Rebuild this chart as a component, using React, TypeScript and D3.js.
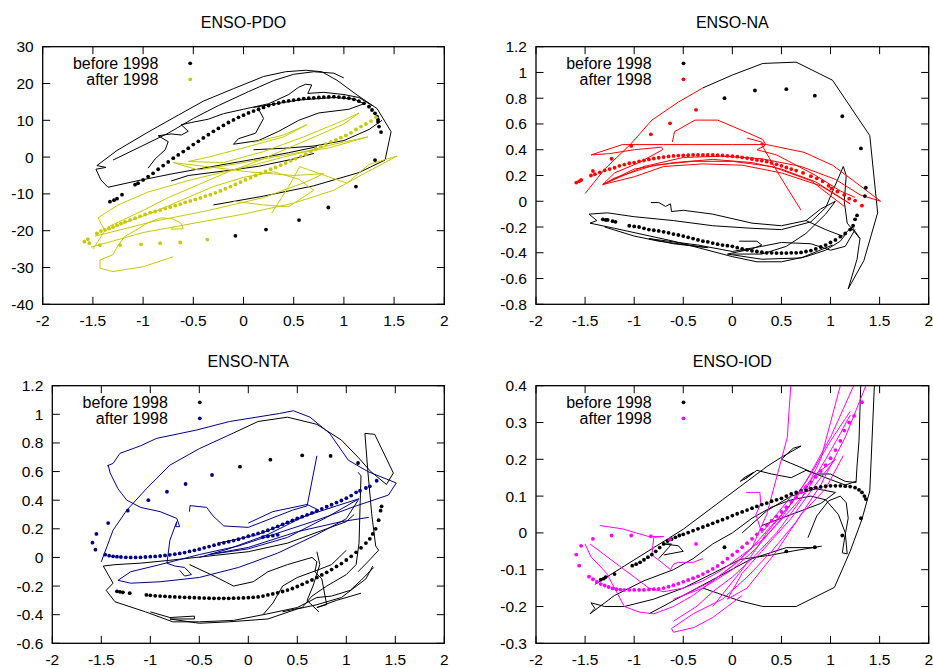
import React from 'react';
import * as d3 from 'd3';

type P = [number, number];

// ---------- shared ticks ----------
const xTicks = [-2, -1.5, -1, -0.5, 0, 0.5, 1, 1.5, 2];
const pdoYTicks = [-40, -30, -20, -10, 0, 10, 20, 30];
const naYTicks = [-0.8, -0.6, -0.4, -0.2, 0, 0.2, 0.4, 0.6, 0.8, 1, 1.2];
const ntaYTicks = [-0.6, -0.4, -0.2, 0, 0.2, 0.4, 0.6, 0.8, 1, 1.2];
const iodYTicks = [-0.3, -0.2, -0.1, 0, 0.1, 0.2, 0.3, 0.4];
const legendLabels = ['before 1998', 'after 1998'];

// ---------- ENSO-PDO ----------
const pdoBeforeDots: P[] = [
  [-1.33, -12.1], [-1.29, -11.7], [-1.26, -11.3], [-1.21, -10.2], [-1.08, -7.5],
  [-1.05, -7.1], [-1.0, -6.2], [-0.95, -5.3], [-0.9, -4.4], [-0.85, -3.3], [-0.8, -2.3], [-0.75, -1.3],
  [-0.7, -0.3], [-0.65, 0.6], [-0.6, 1.5], [-0.55, 2.4], [-0.5, 3.4], [-0.45, 4.3], [-0.4, 5.2],
  [-0.35, 6.1], [-0.3, 7.0], [-0.25, 7.8], [-0.2, 8.6], [-0.15, 9.4], [-0.1, 10.1], [-0.05, 10.8],
  [0, 11.4], [0.05, 12.0], [0.1, 12.5], [0.15, 13.0], [0.2, 13.5], [0.25, 14.0], [0.3, 14.4],
  [0.35, 14.7], [0.4, 15.1], [0.45, 15.3], [0.5, 15.5], [0.55, 15.7], [0.6, 15.9], [0.65, 16.0],
  [0.7, 16.1], [0.75, 16.2], [0.8, 16.3], [0.85, 16.35], [0.9, 16.4], [0.95, 16.3], [1.0, 16.2],
  [1.05, 16.0], [1.1, 15.7], [1.15, 15.2], [1.2, 14.6], [1.25, 13.7], [1.28, 12.8], [1.31, 11.9],
  [1.33, 11.0], [1.34, 10.2], [1.34, 9.6], [1.35, 8.3], [1.37, 6.8],
  [1.31, -0.8], [1.12, -8.0], [0.845, -13.7], [0.553, -17.1], [0.224, -19.7], [-0.081, -21.4],
];
const pdoAfterDots: P[] = [
  [-1.585, -23.0], [-1.55, -22.3], [-1.535, -23.4],
  [-1.46, -20.7], [-1.42, -20.1], [-1.38, -19.8], [-1.34, -19.4], [-1.3, -19.0], [-1.26, -18.5],
  [-1.22, -18.1], [-1.18, -17.6], [-1.13, -17.1], [-1.08, -16.6], [-1.03, -16.1], [-0.98, -15.6],
  [-0.93, -15.1], [-0.88, -14.8], [-0.83, -14.4], [-0.78, -14.0], [-0.73, -13.6], [-0.68, -13.2],
  [-0.63, -12.8], [-0.58, -12.3], [-0.53, -11.9], [-0.48, -11.5], [-0.43, -11.1], [-0.38, -10.6],
  [-0.33, -10.2], [-0.28, -9.7], [-0.23, -9.2], [-0.18, -8.6], [-0.13, -8.0], [-0.08, -7.4],
  [-0.03, -6.8], [0.02, -6.2], [0.07, -5.6], [0.12, -5.0], [0.17, -4.4], [0.22, -3.9], [0.27, -3.3],
  [0.32, -2.8], [0.37, -2.2], [0.42, -1.6], [0.47, -1.0], [0.52, -0.4], [0.57, 0.2], [0.62, 0.8],
  [0.67, 1.5], [0.72, 2.2], [0.77, 2.9], [0.82, 3.5], [0.87, 4.1], [0.92, 4.7], [0.97, 5.3],
  [1.02, 5.9], [1.07, 6.6], [1.12, 7.5], [1.17, 8.3], [1.22, 9.0], [1.27, 9.8], [1.32, 10.8],
  [-1.43, -23.9], [-1.23, -23.9], [-1.02, -23.7], [-0.83, -23.4], [-0.63, -23.2], [-0.36, -22.4],
];
const pdoBeforeLines: P[][] = [
  [[-0.30, -13.0], [0.20, -10.6], [0.70, -7.8], [1.15, -4.2], [1.41, -0.8], [1.47, 6.9], [1.33, 13.2],
   [1.13, 16.9], [0.93, 20.9], [0.78, 23.2], [0.62, 23.6], [0.42, 23.2], [0.20, 21.9], [-0.10, 18.6],
   [-0.40, 15.2], [-0.65, 11.4], [-0.95, 6.8], [-1.26, 1.8], [-1.46, -2.3], [-1.37, -2.8], [-1.47, -3.3],
   [-1.42, -6.2], [-1.35, -8.2], [-1.05, -6.4], [-0.72, -4.6], [-0.3, -2.5], [0.1, -0.6], [0.45, 1.2], [0.73, 2.8]],
  [[-0.95, -3.0], [-0.88, -0.5], [-0.78, 2.0], [-0.75, 4.2], [-0.85, 5.8], [-0.72, 6.3], [-0.62, 6.0],
   [-0.55, 7.0], [-0.62, 8.8], [-0.52, 9.4], [-0.35, 10.3], [-0.2, 11.8], [0.0, 13.0], [0.25, 14.5],
   [0.45, 17.0], [0.55, 19.0], [0.62, 19.8], [0.68, 19.6], [0.64, 17.3], [0.80, 17.6], [1.0, 17.0],
   [1.15, 16.2], [1.28, 14.0]],
  [[-1.30, -0.8], [-1.05, 2.5], [-0.75, 6.5], [-0.5, 10.5], [-0.25, 14.0], [0.05, 17.8], [0.3, 20.8],
   [0.5, 22.5], [0.7, 23.2], [0.9, 22.8], [1.0, 21.5]],
  [[0.1, 13.5], [0.55, 15.5], [0.9, 16.2], [1.1, 15.8], [1.2, 14.5], [1.05, 13.0], [0.75, 12.0],
   [0.55, 10.0], [0.35, 7.0], [0.15, 4.5], [-0.1, 3.5], [-0.05, 5.0], [0.12, 6.5], [0.2, 10.5], [0.15, 13.0]],
  [[-0.72, -6.5], [-0.55, -5.0], [-0.2, -3.8], [0.15, -2.5], [0.5, -0.5], [0.7, 1.0]],
  [[0.1, 2.0], [0.4, 2.4], [0.7, 3.0], [1.0, 4.5], [1.25, 7.5], [1.38, 10.0]],
];
const pdoAfterLines: P[][] = [
  [[-0.70, -27.1], [-1.0, -29.8], [-1.30, -31.1], [-1.43, -30.2], [-1.43, -28.0], [-1.30, -26.5],
   [-1.25, -24.0], [-1.18, -21.5], [-1.05, -19.5], [-0.95, -17.8], [-0.82, -16.5], [-0.7, -16.8],
   [-0.62, -18.0], [-0.60, -19.5], [-0.72, -19.6], [-0.68, -18.6]],
  [[-1.52, -24.5], [-1.0, -20.5], [-0.5, -18.0], [0.0, -15.5], [0.5, -12.5], [0.9, -9.0], [1.2, -4.5],
   [1.53, 0.3], [1.25, -2.0], [1.03, -7.1], [0.56, -2.6], [0.45, -8.0], [0.38, -11.0], [0.28, -15.3]],
  [[-1.35, -19.0], [-1.0, -14.5], [-0.75, -11.0], [-0.45, -7.5], [-0.15, -4.0], [0.15, -1.0], [0.45, 2.5],
   [0.75, 6.0], [1.0, 9.0], [1.15, 12.0], [1.0, 10.0], [0.6, 5.5], [0.2, 1.5], [-0.2, -1.5], [-0.55, -1.2],
   [-0.35, 0.0], [0.0, 2.5], [0.4, 5.5], [0.63, 8.8], [0.4, 6.0], [0.1, 4.0]],
  [[-1.48, -21.5], [-0.9, -17.5], [-0.35, -14.5], [0.2, -11.0], [0.6, -7.0], [0.8, -4.5], [0.5, -5.0],
   [0.05, -4.0], [-0.3, -2.8], [-0.7, -1.5], [-0.45, -3.5], [0.0, -1.5], [0.5, 1.0], [0.85, 2.5],
   [1.24, 5.5], [0.9, 3.5], [0.4, 0.0], [0.05, -2.5], [-0.5, -6.0], [-0.95, -9.5], [-1.25, -13.0],
   [-1.45, -16.5], [-1.38, -20.0], [-1.5, -25.0]],
  [[-1.2, -18.0], [-0.9, -15.0], [-0.6, -11.5], [-0.3, -8.0], [0.0, -5.5], [0.3, -4.0], [0.55, -6.0],
   [0.7, -9.0], [0.45, -13.5], [0.2, -13.0], [-0.1, -12.0]],
];

// ---------- ENSO-NA ----------
const naBeforeDots: P[] = [
  [-1.32, -0.14], [-1.29, -0.145], [-1.27, -0.145], [-1.22, -0.155], [-1.19, -0.16],
  [-1.05, -0.19], [-1.0, -0.195], [-0.95, -0.2], [-0.9, -0.21], [-0.85, -0.22], [-0.8, -0.225],
  [-0.75, -0.23], [-0.7, -0.237], [-0.65, -0.245], [-0.6, -0.255], [-0.55, -0.262], [-0.5, -0.27],
  [-0.45, -0.28], [-0.4, -0.29], [-0.35, -0.3], [-0.3, -0.31], [-0.25, -0.315], [-0.2, -0.325],
  [-0.15, -0.333], [-0.1, -0.34], [-0.05, -0.345], [0, -0.35], [0.05, -0.36], [0.1, -0.37],
  [0.15, -0.377], [0.2, -0.385], [0.25, -0.39], [0.3, -0.395], [0.35, -0.4], [0.4, -0.4],
  [0.45, -0.402], [0.5, -0.402], [0.55, -0.402], [0.6, -0.4], [0.65, -0.4], [0.7, -0.397],
  [0.75, -0.39], [0.8, -0.383], [0.85, -0.37], [0.9, -0.355], [0.95, -0.34], [1.0, -0.32],
  [1.05, -0.3], [1.1, -0.275], [1.15, -0.25], [1.2, -0.22], [1.23, -0.19], [1.25, -0.14], [1.27, -0.11],
  [1.35, 0.04], [1.36, 0.105], [1.31, 0.41], [1.12, 0.66], [0.84, 0.82], [0.55, 0.87], [0.23, 0.86], [-0.08, 0.8],
];
const naAfterDots: P[] = [
  [-1.59, 0.145], [-1.56, 0.155], [-1.54, 0.165], [-1.42, 0.235],
  [-1.44, 0.2], [-1.4, 0.21], [-1.35, 0.225], [-1.3, 0.24], [-1.25, 0.25], [-1.2, 0.26], [-1.15, 0.275],
  [-1.1, 0.285], [-1.05, 0.295], [-1.0, 0.3], [-0.95, 0.31], [-0.9, 0.317], [-0.85, 0.325], [-0.8, 0.332],
  [-0.75, 0.338], [-0.7, 0.343], [-0.65, 0.348], [-0.6, 0.352], [-0.55, 0.355], [-0.5, 0.357],
  [-0.45, 0.358], [-0.4, 0.36], [-0.35, 0.36], [-0.3, 0.36], [-0.25, 0.36], [-0.2, 0.36], [-0.15, 0.358],
  [-0.1, 0.356], [-0.05, 0.353], [0, 0.35], [0.05, 0.346], [0.1, 0.34], [0.15, 0.335], [0.2, 0.328],
  [0.25, 0.32], [0.3, 0.315], [0.35, 0.307], [0.4, 0.298], [0.45, 0.287], [0.5, 0.275], [0.55, 0.262],
  [0.6, 0.25], [0.65, 0.238], [0.72, 0.22], [0.8, 0.195], [0.86, 0.178], [0.92, 0.155], [0.98, 0.12],
  [1.01, 0.1], [1.07, 0.075], [1.14, 0.05], [1.19, 0.02], [1.25, 0.005], [1.32, -0.034],
  [-1.23, 0.33], [-1.03, 0.43], [-0.83, 0.52], [-0.635, 0.605], [-0.37, 0.71],
];
const naBeforeLines: P[][] = [
  [[-0.30, 0.88], [0.0, 0.98], [0.31, 1.07], [0.65, 1.08], [1.02, 0.94], [1.40, 0.51], [1.48, -0.09],
   [1.34, -0.46], [1.18, -0.68], [1.27, -0.45], [1.30, -0.29], [1.22, -0.2], [1.12, -0.27], [0.95, -0.22], [0.75, -0.15]],
  [[1.16, -0.25], [1.10, -0.31], [0.95, -0.38], [0.75, -0.43], [0.5, -0.47], [0.25, -0.47], [0.0, -0.43],
   [-0.3, -0.37], [-0.6, -0.31], [-0.9, -0.26], [-1.2, -0.21], [-1.45, -0.17], [-1.38, -0.15], [-1.46, -0.10],
   [-1.27, -0.09], [-1.0, -0.12], [-0.6, -0.15], [-0.2, -0.19], [0.2, -0.21], [0.5, -0.22], [0.8, -0.16],
   [0.95, -0.05], [1.13, 0.27], [1.16, 0.2], [1.14, 0.0], [1.17, -0.17], [1.3, -0.29]],
  [[-0.83, -0.01], [-0.75, -0.01], [-0.68, -0.04], [-0.63, -0.02], [-0.62, -0.08], [-0.5, -0.07],
   [-0.2, -0.1], [0.2, -0.17], [0.5, -0.19], [0.75, -0.15], [0.9, -0.06], [1.05, 0.0], [0.95, -0.1],
   [0.75, -0.25], [0.55, -0.35], [0.3, -0.41], [0.0, -0.41]],
  [[-1.3, -0.2], [-1.0, -0.27], [-0.75, -0.31], [-0.5, -0.335], [-0.25, -0.36], [-0.6, -0.33], [-0.85, -0.29],
   [-0.35, -0.34], [0.0, -0.39], [0.3, -0.35], [0.5, -0.32], [0.8, -0.33], [1.0, -0.38], [1.15, -0.35], [1.25, -0.22]],
  [[0.07, -0.31], [0.25, -0.31], [0.3, -0.34], [0.2, -0.37], [-0.05, -0.41], [0.3, -0.45], [0.7, -0.44], [1.02, -0.34]],
];
const naAfterLines: P[][] = [
  [[-1.50, 0.06], [-1.30, 0.25], [-1.04, 0.44], [-0.82, 0.63], [-0.55, 0.77], [-0.30, 0.88]],
  [[-1.44, 0.36], [-1.12, 0.44], [-0.70, 0.44], [-0.40, 0.44], [0.0, 0.44], [0.35, 0.44], [0.73, 0.38],
   [1.02, 0.28], [1.25, 0.15], [1.51, 0.0], [1.3, 0.05], [1.05, 0.17], [0.7, 0.27], [0.3, 0.33], [-0.1, 0.35],
   [-0.5, 0.34], [-0.9, 0.27], [-1.32, 0.13], [-1.2, 0.18], [-0.8, 0.28], [-0.4, 0.31], [0.0, 0.31],
   [0.4, 0.27], [0.8, 0.16], [1.14, -0.04]],
  [[-0.61, 0.46], [-0.59, 0.54], [-0.38, 0.63], [-0.15, 0.63], [0.10, 0.55], [0.31, 0.48], [0.34, 0.44],
   [0.29, 0.45], [0.48, 0.20], [0.70, -0.07]],
  [[-1.44, 0.36], [-1.25, 0.37], [-1.0, 0.40], [-0.72, 0.42], [-0.71, 0.40], [-0.95, 0.30], [-1.2, 0.22],
   [-1.32, 0.13], [-1.0, 0.25], [-0.6, 0.30], [-0.2, 0.325], [0.2, 0.30], [0.5, 0.25], [0.85, 0.15],
   [1.1, 0.03], [1.2, -0.02], [0.9, 0.12], [0.5, 0.22], [0.1, 0.28], [-0.3, 0.29], [-0.7, 0.27], [-1.0, 0.19], [-1.32, 0.13]],
  [[0.15, 0.49], [0.3, 0.46], [0.33, 0.43], [0.25, 0.4], [0.45, 0.36], [0.6, 0.3], [0.85, 0.2], [1.1, 0.08], [1.25, 0.03]],
];

// ---------- ENSO-NTA ----------
const ntaBeforeDots: P[] = [
  [-1.34, -0.237], [-1.31, -0.24], [-1.28, -0.244], [-1.21, -0.25],
  [-1.04, -0.262], [-1.0, -0.265], [-0.95, -0.268], [-0.9, -0.27], [-0.85, -0.272], [-0.8, -0.274],
  [-0.75, -0.276], [-0.7, -0.277], [-0.65, -0.279], [-0.6, -0.28], [-0.55, -0.281], [-0.5, -0.283],
  [-0.45, -0.284], [-0.4, -0.285], [-0.35, -0.286], [-0.3, -0.286], [-0.25, -0.286], [-0.2, -0.286],
  [-0.15, -0.285], [-0.1, -0.284], [-0.05, -0.283], [0, -0.281], [0.05, -0.279], [0.1, -0.276],
  [0.15, -0.27], [0.2, -0.262], [0.25, -0.255], [0.3, -0.247], [0.35, -0.238], [0.4, -0.228],
  [0.45, -0.217], [0.5, -0.203], [0.55, -0.188], [0.6, -0.172], [0.65, -0.157], [0.7, -0.14],
  [0.75, -0.122], [0.8, -0.104], [0.85, -0.085], [0.9, -0.063], [0.95, -0.043], [1.0, -0.018],
  [1.05, 0.008], [1.1, 0.036], [1.15, 0.067], [1.2, 0.1], [1.24, 0.13], [1.27, 0.164],
  [1.30, 0.2], [1.33, 0.26], [1.35, 0.327], [1.36, 0.357],
  [1.12, 0.66], [0.84, 0.709], [0.55, 0.713], [0.225, 0.683], [-0.085, 0.634],
];
const ntaAfterDots: P[] = [
  [-0.37, 0.576], [-0.64, 0.513], [-0.83, 0.459], [-1.02, 0.4], [-1.23, 0.327], [-1.43, 0.24],
  [-1.55, 0.164], [-1.59, 0.103], [-1.56, 0.054],
  [-1.46, 0.019], [-1.42, 0.012], [-1.38, 0.008], [-1.34, 0.005], [-1.3, 0.003], [-1.25, 0.001],
  [-1.2, 0.0], [-1.15, 0.0], [-1.1, 0.001], [-1.05, 0.003], [-1.0, 0.005], [-0.95, 0.007], [-0.9, 0.01],
  [-0.85, 0.014], [-0.8, 0.018], [-0.75, 0.023], [-0.7, 0.028], [-0.65, 0.034], [-0.6, 0.042],
  [-0.55, 0.05], [-0.5, 0.058], [-0.45, 0.067], [-0.4, 0.076], [-0.35, 0.085], [-0.3, 0.094],
  [-0.25, 0.102], [-0.2, 0.11], [-0.15, 0.118], [-0.1, 0.127], [-0.05, 0.137], [0, 0.148],
  [0.05, 0.158], [0.1, 0.168], [0.15, 0.178], [0.2, 0.19], [0.25, 0.203], [0.3, 0.217], [0.35, 0.231],
  [0.4, 0.245], [0.45, 0.258], [0.5, 0.272], [0.55, 0.285], [0.6, 0.298], [0.65, 0.312], [0.7, 0.326],
  [0.75, 0.34], [0.8, 0.354], [0.85, 0.368], [0.9, 0.383], [0.95, 0.398], [1.0, 0.414], [1.05, 0.432],
  [1.1, 0.455], [1.14, 0.466], [1.2, 0.485], [1.24, 0.497], [1.31, 0.536],
  [0.15, 0.142], [0.2, 0.147], [0.25, 0.152], [0.3, 0.158],
];
const ntaBeforeLines: P[][] = [
  [[-0.15, 0.87], [0.1, 0.95], [0.4, 0.98], [0.7, 0.93], [0.95, 0.82], [1.12, 0.70], [1.25, 0.60],
   [1.41, 0.51], [1.48, 0.59], [1.29, 0.86], [1.19, 0.867], [1.22, 0.6], [1.26, 0.3], [1.30, 0.08],
   [1.33, 0.05], [1.22, -0.03], [1.12, -0.1]],
  [[1.12, 0.595], [1.15, 0.57], [1.14, 0.35], [1.13, 0.1], [1.1, -0.05], [1.0, -0.12], [0.8, -0.2],
   [0.65, -0.27], [0.55, -0.35], [0.35, -0.38]],
  [[1.28, -0.07], [1.15, -0.16], [1.04, -0.23], [0.85, -0.27], [0.70, -0.28], [0.5, -0.35], [0.19, -0.395],
   [-0.15, -0.44], [-0.5, -0.45], [-0.77, -0.45], [-1.05, -0.38], [-1.36, -0.31], [-1.45, -0.23],
   [-1.38, -0.18], [-1.48, -0.06], [-1.35, -0.05], [-1.1, -0.04], [-0.8, -0.02], [-0.4, 0.01], [0.0, 0.04],
   [0.4, 0.1], [0.8, 0.2], [1.0, 0.25], [1.08, 0.3]],
  [[-0.6, -0.05], [-0.35, -0.13], [-0.15, -0.2], [0.05, -0.17], [0.2, -0.1], [0.4, -0.05], [0.65, 0.0],
   [0.7, -0.03], [0.68, -0.1], [0.75, -0.15], [0.8, -0.33], [0.7, -0.35], [0.9, -0.3], [1.15, -0.25]],
  [[-1.0, -0.38], [-0.8, -0.42], [-0.55, -0.41], [-0.55, -0.43], [-0.8, -0.43], [-0.5, -0.46], [-0.2, -0.45],
   [0.2, -0.43], [0.5, -0.36], [0.7, -0.33], [0.95, -0.28], [1.2, -0.15], [1.27, -0.06]],
  [[0.15, -0.4], [0.25, -0.32], [0.35, -0.2], [0.5, -0.14], [0.7, -0.09], [0.85, -0.05], [1.0, 0.05]],
  [[0.7, 0.04], [0.73, -0.05], [0.66, -0.2], [0.6, -0.3], [0.72, -0.38]],
];
const ntaAfterLines: P[][] = [
  [[-1.44, 0.64], [-1.38, 0.657], [-1.31, 0.727], [-1.1, 0.78], [-0.935, 0.832], [-0.53, 0.89], [-0.19, 0.95],
   [0.32, 1.006], [0.46, 1.025], [0.63, 0.98], [0.83, 0.867], [1.02, 0.68], [1.22, 0.6], [1.51, 0.52],
   [1.43, 0.436], [1.1, 0.36], [0.7, 0.26], [0.3, 0.17], [-0.1, 0.08], [-0.5, 0.02], [-0.9, -0.05],
   [-1.2, -0.1], [-1.33, -0.16], [-1.2, -0.18], [-0.9, -0.17], [-0.5, -0.14], [-0.1, -0.07], [0.3, 0.03],
   [0.7, 0.16], [1.0, 0.27], [1.12, 0.4]],
  [[-1.43, 0.646], [-1.41, 0.59], [-1.33, 0.48], [-1.24, 0.40], [-1.1, 0.35], [-0.9, 0.32], [-0.73, 0.273],
   [-0.70, 0.215], [-0.74, 0.215], [-0.73, 0.25], [-0.80, 0.12], [-0.83, -0.04], [-0.75, -0.06],
   [-0.65, -0.07], [-0.58, -0.12], [-0.65, -0.13], [-0.7, -0.09]],
  [[-1.5, -0.03], [-1.38, 0.19], [-1.24, 0.33], [-1.04, 0.48], [-0.80, 0.645], [-0.5, 0.76], [-0.15, 0.87]],
  [[0.70, 0.71], [0.6, 0.36], [0.45, 0.33], [0.0, 0.21], [-0.25, 0.22], [-0.36, 0.29], [-0.425, 0.35],
   [-0.595, 0.362], [-0.6, 0.32]],
  [[-0.3, 0.1], [0.1, 0.16], [0.5, 0.27], [0.9, 0.36], [1.13, 0.41], [0.8, 0.28], [0.4, 0.14], [0.0, 0.06],
   [-0.4, 0.02], [0.0, 0.07], [0.5, 0.18], [0.95, 0.25], [1.23, 0.28]],
  [[-0.5, 0.0], [-0.2, 0.06], [0.2, 0.16], [0.55, 0.28], [0.72, 0.33], [0.6, 0.37], [0.25, 0.32], [0.0, 0.24]],
];

// ---------- ENSO-IOD ----------
const iodBeforeDots: P[] = [
  [-1.34, -0.127], [-1.31, -0.124], [-1.29, -0.12], [-1.2, -0.112],
  [-1.02, -0.089], [-0.98, -0.085], [-0.94, -0.08], [-0.9, -0.073], [-0.86, -0.066], [-0.82, -0.059],
  [-0.78, -0.05], [-0.74, -0.04], [-0.7, -0.03], [-0.66, -0.022], [-0.62, -0.017], [-0.58, -0.012],
  [-0.54, -0.007], [-0.5, -0.004], [-0.45, 0.001], [-0.4, 0.006], [-0.35, 0.011], [-0.3, 0.016],
  [-0.25, 0.021], [-0.2, 0.026], [-0.15, 0.031], [-0.1, 0.036], [-0.05, 0.041], [0, 0.047],
  [0.05, 0.052], [0.1, 0.057], [0.15, 0.062], [0.2, 0.067], [0.25, 0.072], [0.3, 0.077], [0.35, 0.081],
  [0.4, 0.086], [0.45, 0.09], [0.5, 0.094], [0.55, 0.1], [0.6, 0.106], [0.65, 0.11], [0.7, 0.114],
  [0.75, 0.117], [0.8, 0.12], [0.85, 0.123], [0.9, 0.125], [0.95, 0.127], [1.0, 0.128], [1.05, 0.128],
  [1.1, 0.128], [1.15, 0.127], [1.2, 0.126], [1.25, 0.123], [1.29, 0.117], [1.32, 0.11], [1.345, 0.1], [1.36, 0.092],
  [1.31, 0.04], [1.12, -0.007], [0.84, -0.039], [0.55, -0.05], [-0.08, -0.039],
];
const iodAfterDots: P[] = [
  [-0.37, -0.03], [-0.635, -0.018], [-0.83, -0.009], [-1.03, -0.007], [-1.23, -0.007], [-1.42, -0.016],
  [-1.54, -0.035], [-1.59, -0.059], [-1.56, -0.089],
  [-1.46, -0.119], [-1.42, -0.126], [-1.38, -0.133], [-1.34, -0.139], [-1.3, -0.143], [-1.26, -0.147],
  [-1.22, -0.151], [-1.18, -0.153], [-1.14, -0.154], [-1.1, -0.155], [-1.05, -0.155], [-1.0, -0.155],
  [-0.95, -0.155], [-0.9, -0.155], [-0.85, -0.154], [-0.8, -0.153], [-0.75, -0.152], [-0.7, -0.15],
  [-0.65, -0.146], [-0.6, -0.142], [-0.55, -0.138], [-0.5, -0.133], [-0.45, -0.128], [-0.4, -0.123],
  [-0.35, -0.118], [-0.3, -0.112], [-0.25, -0.105], [-0.2, -0.098], [-0.15, -0.09], [-0.1, -0.08],
  [-0.05, -0.07], [0, -0.06], [0.05, -0.05], [0.1, -0.039], [0.15, -0.028], [0.2, -0.016], [0.25, -0.004],
  [0.3, 0.009], [0.35, 0.021], [0.4, 0.033], [0.45, 0.045], [0.5, 0.057], [0.55, 0.07], [0.6, 0.084],
  [0.65, 0.097], [0.7, 0.111], [0.75, 0.125], [0.8, 0.138], [0.85, 0.152], [0.9, 0.168], [0.95, 0.184],
  [1.0, 0.203], [1.05, 0.225], [1.1, 0.25], [1.14, 0.278], [1.19, 0.3], [1.24, 0.318], [1.32, 0.355],
];
const iodBeforeLines: P[][] = [
  [[-0.30, -0.15], [0.08, -0.185], [0.31, -0.20], [0.65, -0.20], [1.04, -0.148], [1.20, -0.05],
   [1.32, 0.037], [1.40, 0.114], [1.45, 0.42]],
  [[1.31, 0.42], [1.29, 0.25], [1.27, 0.182], [1.26, 0.137], [1.15, 0.14], [1.0, 0.16], [0.85, 0.16],
   [0.75, 0.17], [0.6, 0.15], [0.4, 0.16], [0.25, 0.17], [0.15, 0.15], [0.08, 0.14], [0.12, 0.15],
   [0.22, 0.165], [0.12, 0.145]],
  [[0.77, -0.013], [0.86, 0.046], [0.98, 0.087], [1.1, 0.1], [1.16, 0.082], [1.18, 0.04], [1.14, -0.02],
   [1.12, -0.054], [1.17, -0.057], [1.15, 0.0], [1.08, 0.05], [0.95, 0.09], [0.8, 0.1], [0.6, 0.09],
   [0.4, 0.07], [0.2, 0.04], [0.0, 0.0], [-0.2, -0.03], [-0.4, -0.07], [-0.6, -0.1], [-0.9, -0.13],
   [-1.2, -0.17], [-1.45, -0.22], [-1.40, -0.205], [-1.44, -0.19], [-1.3, -0.2], [-1.1, -0.2],
   [-0.8, -0.18], [-0.5, -0.15], [-0.2, -0.11], [0.08, -0.072], [0.4, -0.06], [0.62, -0.049], [0.91, -0.036]],
  [[-1.4, -0.14], [-1.1, -0.09], [-0.8, -0.04], [-0.5, 0.01], [-0.3, 0.05], [-0.1, 0.09], [0.1, 0.13],
   [0.35, 0.18], [0.49, 0.204], [0.70, 0.236], [0.62, 0.23], [0.5, 0.2], [0.68, 0.18], [0.85, 0.16],
   [1.0, 0.145], [1.15, 0.13], [1.26, 0.14]],
  [[-0.75, -0.07], [-0.65, -0.04], [-0.62, -0.03], [-0.7, -0.03], [-0.55, -0.035], [-0.5, -0.05], [-0.7, -0.06]],
  [[-0.85, -0.22], [-0.5, -0.17], [-0.15, -0.12], [0.2, -0.07], [0.55, -0.04], [0.86, -0.04]],
  [[0.1, 0.0], [0.35, 0.06], [0.6, 0.1], [0.85, 0.12], [1.05, 0.11], [0.9, 0.08], [0.6, 0.05], [0.3, 0.02]],
];
const iodAfterLines: P[][] = [
  [[0.60, 0.42], [0.56, 0.26], [0.5, 0.2], [0.35, 0.05], [0.2, -0.04], [0.05, -0.08], [-0.2, -0.13], [-0.5, -0.17]],
  [[1.27, 0.42], [1.0, 0.26], [0.75, 0.14], [0.5, 0.04], [0.25, -0.04], [0.0, -0.1], [-0.3, -0.15], [-0.6, -0.18]],
  [[1.39, 0.42], [1.15, 0.26], [0.9, 0.13], [0.65, 0.03], [0.4, -0.05], [0.15, -0.12], [-0.1, -0.18],
   [-0.4, -0.22], [-0.62, -0.26], [-0.6, -0.27], [-0.39, -0.257], [-0.2, -0.23], [-0.05, -0.2], [0.1, -0.17]],
  [[-1.35, 0.02], [-1.12, 0.011], [-0.85, -0.01], [-0.7, -0.01], [-0.8, -0.012], [-0.82, -0.06],
   [-0.72, -0.08], [-0.63, -0.1], [-0.6, -0.085], [-0.55, -0.08], [-0.4, -0.08], [-0.3, -0.07]],
  [[-1.5, -0.03], [-1.44, -0.065], [-1.35, -0.09], [-1.28, -0.11], [-1.2, -0.15], [-1.1, -0.2],
   [-0.95, -0.215], [-0.8, -0.22], [-0.6, -0.2], [-0.4, -0.17], [-0.2, -0.13], [0.0, -0.09], [0.2, -0.04],
   [0.4, 0.02], [0.6, 0.08], [0.8, 0.16], [1.0, 0.25], [1.15, 0.31], [1.2, 0.33]],
  [[-1.45, -0.03], [-1.3, -0.06], [-1.15, -0.09], [-1.0, -0.12], [-0.85, -0.15], [-0.7, -0.16], [-0.5, -0.15],
   [-0.3, -0.13], [-0.1, -0.1], [0.1, -0.06], [0.3, -0.02], [0.55, 0.05], [0.75, 0.11], [0.95, 0.2],
   [1.1, 0.27], [1.2, 0.32]],
  [[-0.2, -0.2], [0.1, -0.1], [0.35, 0.0], [0.6, 0.08], [0.85, 0.16], [1.05, 0.2], [0.9, 0.15], [0.6, 0.04],
   [0.3, -0.05], [0.1, -0.11], [-0.05, -0.18], [0.15, -0.15], [0.45, -0.05], [0.7, 0.05], [0.95, 0.12], [1.13, 0.21]],
  [[0.14, 0.11], [0.28, 0.11], [0.29, 0.08], [0.24, 0.05], [0.3, 0.0], [0.45, 0.05], [0.6, 0.1]],
  [[-0.6, -0.24], [-0.36, -0.199], [-0.2, -0.16], [0.0, -0.12], [0.2, -0.07], [0.45, 0.0], [0.7, 0.09], [0.9, 0.2], [1.0, 0.3], [1.1, 0.4]],
];

interface PanelSpec {
  id: string;
  title: string;
  left: number;
  right: number;
  top: number;
  bottom: number;
  yDomain: [number, number];
  yTicks: number[];
  color: string;
  beforeDots: P[];
  afterDots: P[];
  beforeLines: P[][];
  afterLines: P[][];
}

const panels: PanelSpec[] = [
  { id: 'pdo', title: 'ENSO-PDO', left: 42.7, right: 444.3, top: 46.7, bottom: 304.3, yDomain: [-40, 30],
    yTicks: pdoYTicks, color: '#c8c800', beforeDots: pdoBeforeDots, afterDots: pdoAfterDots,
    beforeLines: pdoBeforeLines, afterLines: pdoAfterLines },
  { id: 'na', title: 'ENSO-NA', left: 536, right: 928.7, top: 46.7, bottom: 304.3, yDomain: [-0.8, 1.2],
    yTicks: naYTicks, color: '#ff0000', beforeDots: naBeforeDots, afterDots: naAfterDots,
    beforeLines: naBeforeLines, afterLines: naAfterLines },
  { id: 'nta', title: 'ENSO-NTA', left: 52.3, right: 444.3, top: 385.7, bottom: 643.3, yDomain: [-0.6, 1.2],
    yTicks: ntaYTicks, color: '#00008b', beforeDots: ntaBeforeDots, afterDots: ntaAfterDots,
    beforeLines: ntaBeforeLines, afterLines: ntaAfterLines },
  { id: 'iod', title: 'ENSO-IOD', left: 536, right: 928.7, top: 385.7, bottom: 643.3, yDomain: [-0.3, 0.4],
    yTicks: iodYTicks, color: '#ff00ff', beforeDots: iodBeforeDots, afterDots: iodAfterDots,
    beforeLines: iodBeforeLines, afterLines: iodAfterLines },
];

const FONT = '"Liberation Sans", Arial, Helvetica, sans-serif';
const fmt = (v: number) => String(+v.toFixed(2));

function Panel({ p }: { p: PanelSpec }) {
  const x = d3.scaleLinear().domain([-2, 2]).range([p.left, p.right]);
  const y = d3.scaleLinear().domain(p.yDomain).range([p.bottom, p.top]);
  const line = d3.line<P>().x((d) => x(d[0])).y((d) => y(d[1]));
  const tick = 7.5;
  const clipId = `clip-${p.id}`;
  const cx = (p.left + p.right) / 2;
  return (
    <g>
      <defs>
        <clipPath id={clipId}>
          <rect x={p.left} y={p.top} width={p.right - p.left} height={p.bottom - p.top} />
        </clipPath>
      </defs>
      <text x={cx} y={p.top - 18.4} textAnchor="middle" fontSize={16} fontFamily={FONT} fill="#000">
        {p.title}
      </text>
      <g clipPath={`url(#${clipId})`}>
        {p.beforeLines.map((l, i) => (
          <path key={`bl${i}`} d={line(l) || ''} fill="none" stroke="#000" strokeWidth={1} />
        ))}
        {p.afterLines.map((l, i) => (
          <path key={`al${i}`} d={line(l) || ''} fill="none" stroke={p.color} strokeWidth={1} />
        ))}
        {p.beforeDots.map((d, i) => (
          <circle key={`bd${i}`} cx={x(d[0])} cy={y(d[1])} r={1.9} fill="#000" />
        ))}
        {p.afterDots.map((d, i) => (
          <circle key={`ad${i}`} cx={x(d[0])} cy={y(d[1])} r={1.9} fill={p.color} />
        ))}
      </g>
      {/* ticks */}
      {xTicks.map((t) => (
        <g key={`xt${t}`}>
          <line x1={x(t)} x2={x(t)} y1={p.bottom} y2={p.bottom - tick} stroke="#000" strokeWidth={1} />
          <line x1={x(t)} x2={x(t)} y1={p.top} y2={p.top + tick} stroke="#000" strokeWidth={1} />
          <text x={x(t)} y={p.bottom + 22} textAnchor="middle" fontSize={15.5} fontFamily={FONT} fill="#000">
            {fmt(t)}
          </text>
        </g>
      ))}
      {p.yTicks.map((t) => (
        <g key={`yt${t}`}>
          <line x1={p.left} x2={p.left + tick} y1={y(t)} y2={y(t)} stroke="#000" strokeWidth={1} />
          <line x1={p.right} x2={p.right - tick} y1={y(t)} y2={y(t)} stroke="#000" strokeWidth={1} />
          <text x={p.left - 9} y={y(t) + 5.5} textAnchor="end" fontSize={15.5} fontFamily={FONT} fill="#000">
            {fmt(t)}
          </text>
        </g>
      ))}
      <rect x={p.left} y={p.top} width={p.right - p.left} height={p.bottom - p.top} fill="none" stroke="#000" strokeWidth={1.3} />
      {/* legend */}
      {legendLabels.map((lab, i) => (
        <g key={lab}>
          <text x={p.left + 115.6} y={p.top + 22.3 + i * 16} textAnchor="end" fontSize={16} fontFamily={FONT} fill="#000">
            {lab}
          </text>
          <circle cx={p.left + 147.5} cy={p.top + 16.6 + i * 16} r={1.9} fill={i === 0 ? '#000' : p.color} />
        </g>
      ))}
    </g>
  );
}

export default function App() {
  return (
    <svg
      width={933}
      height={668}
      viewBox="0 0 933 668"
      style={{ position: 'absolute', left: 0, top: 0, background: '#fff' }}
    >
      <rect x={0} y={0} width={933} height={668} fill="#fff" />
      {panels.map((p) => (
        <Panel key={p.id} p={p} />
      ))}
    </svg>
  );
}
